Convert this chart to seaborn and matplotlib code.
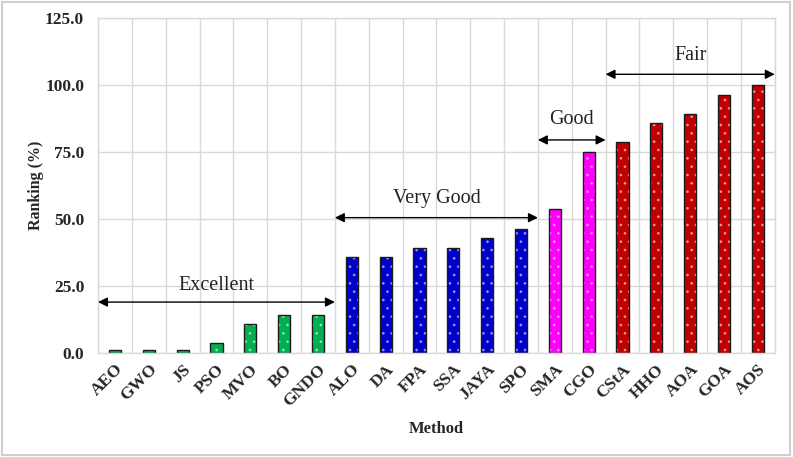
import matplotlib
matplotlib.use("Agg")
import matplotlib.pyplot as plt
import seaborn as sns
import numpy as np
from matplotlib.patches import Rectangle

methods = ["AEO", "GWO", "JS", "PSO", "MVO", "BO", "GNDO",
           "ALO", "DA", "FPA", "SSA", "JAYA", "SPO",
           "SMA", "CGO",
           "CStA", "HHO", "AOA", "GOA", "AOS"]
ranking = [1.0, 1.0, 1.0, 3.6, 10.7, 14.3, 14.3,
           35.7, 35.7, 39.3, 39.3, 42.9, 46.4,
           53.6, 75.0,
           78.6, 85.7, 89.3, 96.4, 100.0]
groups = ["Excellent"] * 7 + ["Very Good"] * 6 + ["Good"] * 2 + ["Fair"] * 5
group_colors = {"Excellent": "#00B050", "Very Good": "#0000CC",
                "Good": "#FF00FF", "Fair": "#C00000"}
# group annotations: label, start index, end index, arrow y, text y
group_spans = [("Excellent", 0, 6, 19.0, 25.0),
               ("Very Good", 7, 12, 50.5, 57.5),
               ("Good", 13, 14, 79.5, 87.0),
               ("Fair", 15, 19, 104.0, 111.0)]
yticks = [0, 25, 50, 75, 100, 125]

sns.set_theme(style="white")
plt.rcParams["font.family"] = ["Liberation Serif", "DejaVu Serif"]
plt.rcParams["hatch.linewidth"] = 0.8

fig = plt.figure(figsize=(7.93, 4.57), dpi=100)
ax = fig.add_axes([0.1236, 0.2276, 0.977 - 0.1236, 0.9606 - 0.2276])

palette = [group_colors[g] for g in groups]
sns.barplot(x=methods, y=ranking, hue=methods, palette=palette,
            legend=False, width=0.36, ax=ax, saturation=1)

for p in ax.patches:
    p.set_edgecolor("#1a1a1a")
    p.set_linewidth(1.0)
    p.set_hatch("..")
    p._hatch_color = (1, 1, 1, 0.45)

ax.set_xlim(-0.5, len(methods) - 0.5)
ax.set_ylim(0, 125)
ax.set_yticks(yticks)
ax.set_yticklabels([f"{v:.1f}" for v in yticks], fontsize=12.5, fontweight="bold")
ax.set_xticks(range(len(methods)))
ax.set_xticklabels(methods, rotation=45, ha="right", rotation_mode="anchor",
                   fontsize=12.5, fontweight="bold")
ax.set_xticks(np.arange(-0.5, len(methods), 1.0), minor=True)
ax.tick_params(axis="both", which="both", length=0)
ax.tick_params(axis="y", pad=10)
ax.tick_params(axis="x", pad=6)
ax.grid(axis="y", which="major", color="#D9D9D9", linewidth=1.0)
ax.grid(axis="x", which="minor", color="#D9D9D9", linewidth=1.0)
ax.grid(axis="x", which="major", visible=False)
ax.set_axisbelow(True)
for s in ax.spines.values():
    s.set_color("#D9D9D9")
    s.set_linewidth(1.0)

ax.set_xlabel("Method", fontsize=12, fontweight="bold", labelpad=8)
ax.set_ylabel("Ranking (%)", fontsize=11.5, fontweight="bold", labelpad=1)

for label, i0, i1, ya, yt in group_spans:
    x0, x1 = i0 - 0.5, i1 + 0.5
    ax.annotate("", xy=(x0, ya), xytext=(x1, ya),
                arrowprops=dict(arrowstyle="<|-|>", color="black", lw=1.0,
                                mutation_scale=14, shrinkA=0, shrinkB=0))
    ax.text((x0 + x1) / 2, yt, label, ha="center", va="center",
            fontsize=14.5, color="#222222")

fig.patches.append(Rectangle((0.002, 0.004), 0.994, 0.992, transform=fig.transFigure,
                             fill=False, edgecolor="#D0D0D0", linewidth=1.5))

fig.savefig("out.png", dpi=100)
